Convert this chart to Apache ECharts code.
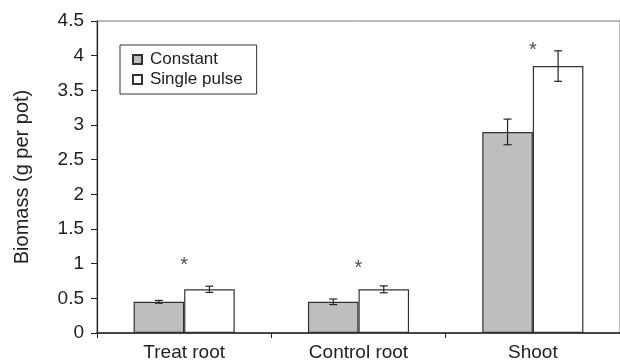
<!DOCTYPE html>
<html>
<head>
<meta charset="utf-8">
<script src="https://cdn.jsdelivr.net/npm/echarts@6/dist/echarts.min.js"></script>
<style>
html,body{margin:0;padding:0;background:#fff;}
#chart{width:620px;height:362px;}
</style>
</head>
<body>
<div id="chart"></div>
<script>
var categories = ['Treat root', 'Control root', 'Shoot'];
var constantVals = [0.45, 0.45, 2.90];
var constantErr = [0.02, 0.04, 0.185];
var pulseVals = [0.63, 0.63, 3.85];
var pulseErr = [0.045, 0.05, 0.22];
var starY = [0.98, 0.93, 4.07];

var FONT = '"Liberation Sans", Arial, sans-serif';
var BAR_FRAC = 0.29;

function errorSeries(name, vals, errs, side) {
    return {
        type: 'custom',
        name: name + ' err',
        z: 5,
        data: vals.map(function (v, i) { return [i, v - errs[i], v + errs[i]]; }),
        renderItem: function (params, api) {
            var band = api.size([1, 0])[0];
            var dx = side * band * BAR_FRAC / 2;
            var lo = api.coord([api.value(0), api.value(1)]);
            var hi = api.coord([api.value(0), api.value(2)]);
            var x = lo[0] + dx;
            var cap = 4;
            var st = { stroke: '#222', lineWidth: 1.2 };
            return {
                type: 'group',
                children: [
                    { type: 'line', shape: { x1: x, y1: lo[1], x2: x, y2: hi[1] }, style: st },
                    { type: 'line', shape: { x1: x - cap, y1: lo[1], x2: x + cap, y2: lo[1] }, style: st },
                    { type: 'line', shape: { x1: x - cap, y1: hi[1], x2: x + cap, y2: hi[1] }, style: st }
                ]
            };
        },
        silent: true
    };
}

var chart = echarts.init(document.getElementById('chart'));
chart.setOption({
    animation: false,
    textStyle: { fontFamily: FONT },
    grid: {
        left: 97, right: -2, top: 21, bottom: 29,
        show: true, borderColor: '#777', borderWidth: 1
    },
    legend: {
        orient: 'vertical',
        left: 120, top: 45,
        padding: [6, 14, 6, 12],
        itemWidth: 9, itemHeight: 9,
        itemGap: 3,
        borderColor: '#333', borderWidth: 1,
        textStyle: { fontFamily: FONT, fontSize: 17, color: '#222', padding: [0, 0, 0, 3] },
        data: [
            { name: 'Constant', icon: 'rect' },
            { name: 'Single pulse', icon: 'rect' }
        ]
    },
    xAxis: {
        type: 'category',
        data: categories,
        axisLine: { lineStyle: { color: '#222', width: 1.5 } },
        axisTick: { show: true, length: 5, lineStyle: { color: '#222' } },
        axisLabel: { fontFamily: FONT, fontSize: 19, color: '#222', margin: 10 }
    },
    yAxis: {
        type: 'value',
        min: 0, max: 4.5, interval: 0.5,
        name: 'Biomass (g per pot)',
        nameLocation: 'middle',
        nameGap: 65,
        nameTextStyle: { fontFamily: FONT, fontSize: 20, color: '#222' },
        splitLine: { show: false },
        axisLine: { show: true, lineStyle: { color: '#222', width: 1.2 } },
        axisTick: { show: true, length: 6, lineStyle: { color: '#222' } },
        axisLabel: { fontFamily: FONT, fontSize: 19, color: '#222', margin: 13 }
    },
    series: [
        {
            name: 'Constant', type: 'bar', data: constantVals,
            barWidth: (BAR_FRAC * 100) + '%', barGap: '0%',
            itemStyle: { color: '#bdbec0', borderColor: '#333', borderWidth: 1.2 }
        },
        {
            name: 'Single pulse', type: 'bar', data: pulseVals,
            barWidth: (BAR_FRAC * 100) + '%', barGap: '0%',
            itemStyle: { color: '#ffffff', borderColor: '#333', borderWidth: 1.2 }
        },
        errorSeries('Constant', constantVals, constantErr, -1),
        errorSeries('Single pulse', pulseVals, pulseErr, 1),
        {
            type: 'scatter', name: 'sig',
            symbolSize: 0,
            data: starY,
            label: {
                show: true, position: 'inside', formatter: '*',
                fontFamily: FONT, fontSize: 20, color: '#222'
            },
            silent: true
        }
    ]
});
</script>
</body>
</html>
